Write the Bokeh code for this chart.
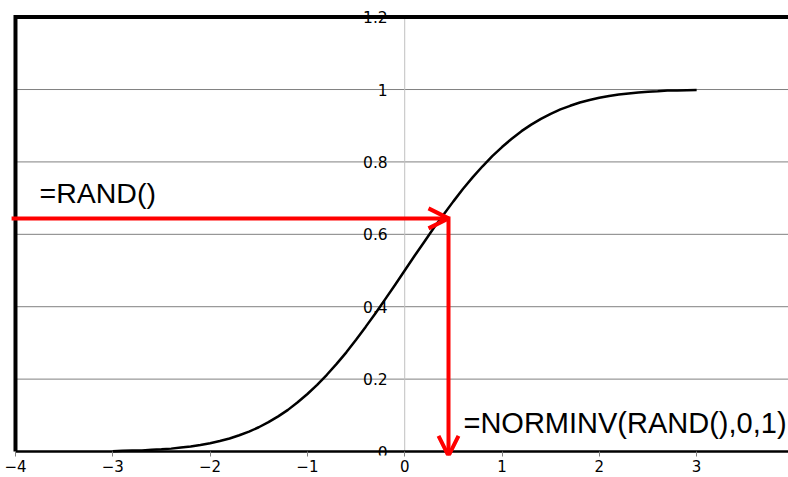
from bokeh.plotting import figure
from bokeh.models import Range1d, FixedTicker, Arrow, OpenHead
from bokeh.core.properties import value
from bokeh.embed import file_html
from bokeh.resources import INLINE

# ---- data ----
cdf_x = [-3.0, -2.9, -2.8, -2.7, -2.6, -2.5, -2.4, -2.3, -2.2, -2.1, -2.0,
         -1.9, -1.8, -1.7, -1.6, -1.5, -1.4, -1.3, -1.2, -1.1, -1.0,
         -0.9, -0.8, -0.7, -0.6, -0.5, -0.4, -0.3, -0.2, -0.1, 0.0,
         0.1, 0.2, 0.3, 0.4, 0.5, 0.6, 0.7, 0.8, 0.9, 1.0,
         1.1, 1.2, 1.3, 1.4, 1.5, 1.6, 1.7, 1.8, 1.9, 2.0,
         2.1, 2.2, 2.3, 2.4, 2.5, 2.6, 2.7, 2.8, 2.9, 3.0]
cdf_y = [0.001, 0.002, 0.003, 0.003, 0.005, 0.006, 0.008, 0.011, 0.014, 0.018, 0.023,
         0.029, 0.036, 0.045, 0.055, 0.067, 0.081, 0.097, 0.115, 0.136, 0.159,
         0.184, 0.212, 0.242, 0.274, 0.309, 0.345, 0.382, 0.421, 0.460, 0.500,
         0.540, 0.579, 0.618, 0.655, 0.691, 0.726, 0.758, 0.788, 0.816, 0.841,
         0.864, 0.885, 0.903, 0.919, 0.933, 0.945, 0.955, 0.964, 0.971, 0.977,
         0.982, 0.986, 0.989, 0.992, 0.994, 0.995, 0.997, 0.997, 0.998, 0.999]

x_ticks = [-4, -3, -2, -1, 0, 1, 2, 3]
x_tick_labels = ["\u22124", "\u22123", "\u22122", "\u22121", "0", "1", "2", "3"]
y_ticks = [0, 0.2, 0.4, 0.6, 0.8, 1.0, 1.2]
y_tick_labels = ["0", "0.2", "0.4", "0.6", "0.8", "1", "1.2"]
grid_y = [0.2, 0.4, 0.6, 0.8, 1.0]

rand_value = 0.644      # =RAND() level
inv_value = 0.45        # resulting NORMINV value
label_rand = "=RAND()"
label_inv = "=NORMINV(RAND(),0,1)"

X0, X1 = -4.154, 3.944
Y0, Y1 = -0.011, 1.2459

p = figure(width=788, height=477, output_backend="svg", toolbar_location=None,
           x_range=Range1d(X0, X1), y_range=Range1d(Y0, Y1),
           min_border_left=0, min_border_right=0, min_border_top=0,
           min_border_bottom=22)
p.outline_line_color = None
p.background_fill_color = "white"
p.border_fill_color = "white"
p.xgrid.visible = False
p.ygrid.visible = False
p.yaxis.visible = False

ax = p.xaxis[0]
ax.ticker = FixedTicker(ticks=x_ticks)
ax.major_label_overrides = {t: l for t, l in zip(x_ticks, x_tick_labels)}
ax.axis_line_color = None
ax.major_tick_in = 4
ax.major_tick_out = 1
ax.major_tick_line_color = "#808080"
ax.minor_tick_line_color = None
ax.major_label_standoff = 3
ax.major_label_text_font = "DejaVu Sans"
ax.major_label_text_font_size = "15px"
ax.major_label_text_color = "black"

# horizontal gridlines
p.segment(x0=[-4] * len(grid_y), y0=grid_y, x1=[X1] * len(grid_y), y1=grid_y,
          line_color="#808080", line_width=1)
# vertical axis line at x=0
p.segment(x0=[0], y0=[0], x1=[0], y1=[1.2], line_color="#c0c0c0", line_width=1)
# y tick labels beside the central axis
p.text(x=[0] * len(y_ticks), y=y_ticks, text=y_tick_labels,
       text_align="right", text_baseline="middle", x_offset=-17,
       text_font=value("DejaVu Sans"), text_font_size="15.5px", text_color="black")

# bottom axis line
p.segment(x0=[-4], y0=[0], x1=[X1], y1=[0], line_color="black", line_width=2.5)
# left and top border
p.line(x=[-4, -4, X1], y=[0, 1.2, 1.2], line_color="black", line_width=4,
       line_join="miter")

# CDF curve
p.line(x=cdf_x, y=cdf_y, line_color="black", line_width=2.5)

# red arrows
p.add_layout(Arrow(x_start=-4.04, y_start=rand_value, x_end=inv_value, y_end=rand_value,
                   line_color="red", line_width=4,
                   end=OpenHead(line_color="red", line_width=4, size=20)))
p.add_layout(Arrow(x_start=inv_value, y_start=rand_value + 0.0055, x_end=inv_value, y_end=-0.012,
                   line_color="red", line_width=4,
                   end=OpenHead(line_color="red", line_width=4, size=20)))

# labels
p.text(x=[-3.753], y=[0.713], text=[label_rand], text_align="left",
       text_baseline="alphabetic", text_font=value("Liberation Sans"),
       text_font_size="28.5px", text_color="black")
p.text(x=[0.604], y=[0.0774], text=[label_inv], text_align="left",
       text_baseline="alphabetic", text_font=value("Liberation Sans"),
       text_font_size="29px", text_color="black")

open("out.html", "w").write(file_html(p, INLINE))
